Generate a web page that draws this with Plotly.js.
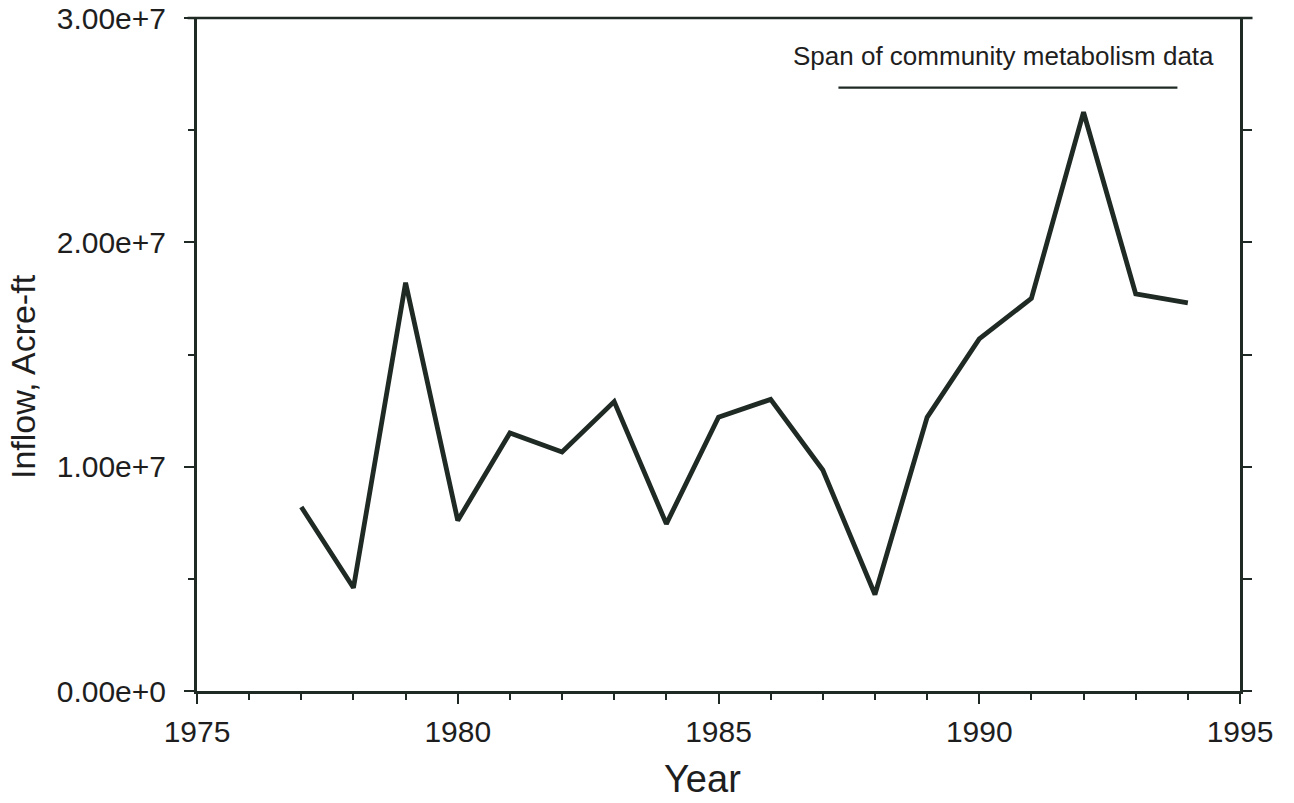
<!DOCTYPE html>
<html><head><meta charset="utf-8">
<script src="https://cdn.plot.ly/plotly-3.0.1.min.js"></script>
<style>html,body{margin:0;padding:0;background:#fff}#c{width:1294px;height:803px}</style>
</head><body><div id="c"></div>
<script>
const years = [1977,1978,1979,1980,1981,1982,1983,1984,1985,1986,1987,1988,1989,1990,1991,1992,1993,1994];
const inflow = [8.2e6,4.6e6,18.2e6,7.6e6,11.5e6,10.65e6,12.9e6,7.45e6,12.2e6,13.0e6,9.85e6,4.3e6,12.2e6,15.7e6,17.5e6,25.8e6,17.7e6,17.3e6];
const spanYears = [1987.3, 1993.8];
const spanLevel = 2.69e7;
const spanLabel = "Span of community metabolism data";
const yTicks = [0, 1e7, 2e7, 3e7];
const yTickText = ["0.00e+0", "1.00e+7", "2.00e+7", "3.00e+7"];
const xTicks = [1975, 1980, 1985, 1990, 1995];
const xTitle = "Year";
const yTitle = "Inflow, Acre-ft";

const ink = "#1f2a24";
const txt = "#1e1e1e";
const fam = "Liberation Sans, Arial, Helvetica, sans-serif";

const data = [
  {x: years, y: inflow, type: "scatter", mode: "lines",
   line: {color: ink, width: 4.8}, hoverinfo: "skip", showlegend: false},
  {x: spanYears, y: [spanLevel, spanLevel], type: "scatter", mode: "lines",
   line: {color: ink, width: 2.2}, hoverinfo: "skip", showlegend: false},
  {x: [1995], y: [0], yaxis: "y2", type: "scatter", mode: "markers",
   marker: {opacity: 0}, hoverinfo: "skip", showlegend: false}
];

const layout = {
  width: 1294, height: 803,
  margin: {l: 197, r: 54, t: 18, b: 112},
  paper_bgcolor: "#fff", plot_bgcolor: "#fff",
  font: {family: fam, color: txt, size: 30},
  xaxis: {
    range: [1975, 1995], tickvals: xTicks, ticktext: xTicks.map(String),
    ticks: "outside", ticklen: 10, tickwidth: 2, tickcolor: ink,
    minor: {dtick: 1, tick0: 1975, ticks: "outside", ticklen: 6, tickwidth: 2, tickcolor: ink, showgrid: false},
    showline: true, linecolor: ink, linewidth: 2.5,
    showgrid: false, zeroline: false,
    ticklabelstandoff: 2,
    tickfont: {family: fam, size: 30, color: txt}
  },
  yaxis: {
    range: [0, 3e7], tickvals: yTicks, ticktext: yTickText,
    ticks: "outside", ticklen: 10, tickwidth: 2, tickcolor: ink,
    minor: {dtick: 5e6, tick0: 0, ticks: "outside", ticklen: 6, tickwidth: 2, tickcolor: ink, showgrid: false},
    showline: true, linecolor: ink, linewidth: 3,
    showgrid: false, zeroline: false,
    ticklabelstandoff: 12,
    tickfont: {family: fam, size: 30, color: txt}
  },
  yaxis2: {
    overlaying: "y", side: "right", range: [0, 3e7],
    tickvals: [0, 5e6, 1e7, 1.5e7, 2e7, 2.5e7, 3e7],
    ticks: "outside", ticklen: 9, tickwidth: 2, tickcolor: ink,
    showticklabels: false, showline: true, linecolor: ink, linewidth: 3,
    showgrid: false, zeroline: false
  },
  shapes: [
    {type: "line", xref: "paper", yref: "paper", x0: -0.009, x1: 1.012, y0: 1, y1: 1,
     line: {color: ink, width: 2.5}}
  ],
  annotations: [
    {x: 1990.46, y: 2.83e7, xref: "x", yref: "y", text: spanLabel, showarrow: false,
     font: {family: fam, size: 26, color: txt}},
    {x: (702 - 197) / (1240 - 197), y: -(779 - 691) / (691 - 18),
     xref: "paper", yref: "paper", text: xTitle, showarrow: false,
     xanchor: "center", yanchor: "middle", font: {family: fam, size: 38, color: txt}},
    {x: (23 - 197) / (1240 - 197), y: (691 - 377) / (691 - 18),
     xref: "paper", yref: "paper", text: yTitle, textangle: -90, showarrow: false,
     xanchor: "center", yanchor: "middle", font: {family: fam, size: 34, color: txt}}
  ]
};

Plotly.newPlot("c", data, layout, {displayModeBar: false, staticPlot: true});
</script>
</body></html>
